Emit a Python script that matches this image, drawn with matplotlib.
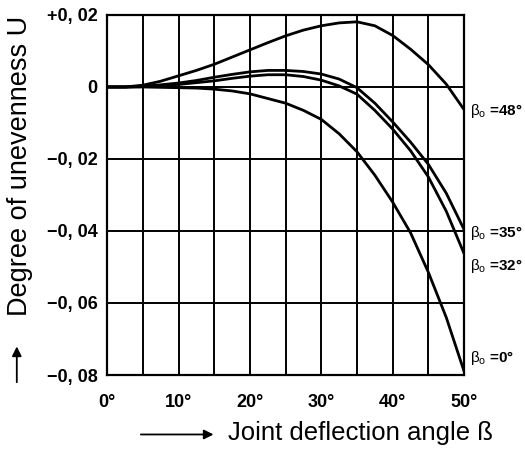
import matplotlib
matplotlib.use('Agg')
import matplotlib.pyplot as plt

# joint deflection angle (deg)
beta = [0, 2.5, 5, 7.5, 10, 12.5, 15, 17.5, 20, 22.5, 25, 27.5,
        30, 32.5, 35, 37.5, 40, 42.5, 45, 47.5, 50]

# degree of unevenness U for each beta_0
u_48 = [0, 0, 0.0005, 0.0016, 0.0031, 0.0046, 0.0063, 0.0083, 0.0103, 0.0123, 0.0142, 0.0158,
        0.0170, 0.0178, 0.0181, 0.0170, 0.0143, 0.0105, 0.0062, 0.0008, -0.0063]
u_35 = [0, 0, 0.0002, 0.0006, 0.0011, 0.0018, 0.0027, 0.0035, 0.0042, 0.0046, 0.0046, 0.0043,
        0.0036, 0.0022, -0.0002, -0.0045, -0.0097, -0.0153, -0.0215, -0.0295, -0.0396]
u_32 = [0, 0, 0.0001, 0.0004, 0.0007, 0.0012, 0.0017, 0.0024, 0.0030, 0.0034, 0.0034, 0.0029,
        0.0019, 0.0003, -0.0020, -0.0065, -0.0117, -0.0177, -0.0250, -0.0345, -0.0463]
u_0 = [0, 0, 0, -0.0001, -0.0002, -0.0003, -0.0006, -0.0011, -0.0019, -0.0032, -0.0045, -0.0065,
       -0.0090, -0.0130, -0.0180, -0.0245, -0.0320, -0.0405, -0.0515, -0.0640, -0.0790]

curve_labels = ['$\\beta_o$ =48°', '$\\beta_o$ =35°', '$\\beta_o$ =32°', '$\\beta_o$ =0°']
curve_label_y = [-0.0068, -0.0405, -0.0498, -0.0752]

yticks = [0.02, 0, -0.02, -0.04, -0.06, -0.08]
ytick_labels = ['+0, 02', '0', '\u22120, 02', '\u22120, 04', '\u22120, 06', '\u22120, 08']

plt.rcParams['font.family'] = ['Liberation Sans', 'DejaVu Sans']
plt.rcParams['mathtext.fontset'] = 'custom'
plt.rcParams['mathtext.rm'] = 'Liberation Sans'
plt.rcParams['mathtext.it'] = 'Liberation Sans'

fig = plt.figure(figsize=(5.25, 4.54), dpi=100)
ax = fig.add_axes([0.204, 0.174, 0.68, 0.793])

for u in [u_48, u_35, u_32, u_0]:
    ax.plot(beta, u, color='black', lw=2, solid_capstyle='butt', zorder=3)

ax.set_xlim(0, 50)
ax.set_ylim(-0.08, 0.02)
ax.set_xticks(range(0, 51, 5))
ax.set_yticks(yticks)
ax.grid(True, color='black', lw=1.4)
ax.set_xticklabels(['' if t % 10 else '%d°' % t for t in range(0, 51, 5)])
ax.set_yticklabels(ytick_labels)
ax.tick_params(length=0, labelsize=13)
ax.tick_params(axis='x', pad=14)
ax.tick_params(axis='y', pad=7)
for lbl in ax.get_xticklabels() + ax.get_yticklabels():
    lbl.set_fontweight('bold')
for s in ax.spines.values():
    s.set_linewidth(1.6)

for txt, y in zip(curve_labels, curve_label_y):
    ax.text(50.8, y, txt, fontsize=11, fontweight='bold', va='center', ha='left',
            clip_on=False)

fig.text(0.038, 0.634, 'Degree of unevenness U', rotation=90, fontsize=19.5,
         ha='center', va='center')
fig.text(0.434, 0.046, 'Joint deflection angle ß', fontsize=18.5, ha='left', va='center')

# arrows next to the axis titles
fig.add_artist(matplotlib.patches.FancyArrowPatch(
    (0.032, 0.152), (0.032, 0.243), transform=fig.transFigure,
    arrowstyle='-|>', mutation_scale=14, color='black', lw=1.3))
fig.add_artist(matplotlib.patches.FancyArrowPatch(
    (0.263, 0.043), (0.412, 0.043), transform=fig.transFigure,
    arrowstyle='-|>', mutation_scale=14, color='black', lw=1.3))

fig.savefig('out.png', dpi=100)
